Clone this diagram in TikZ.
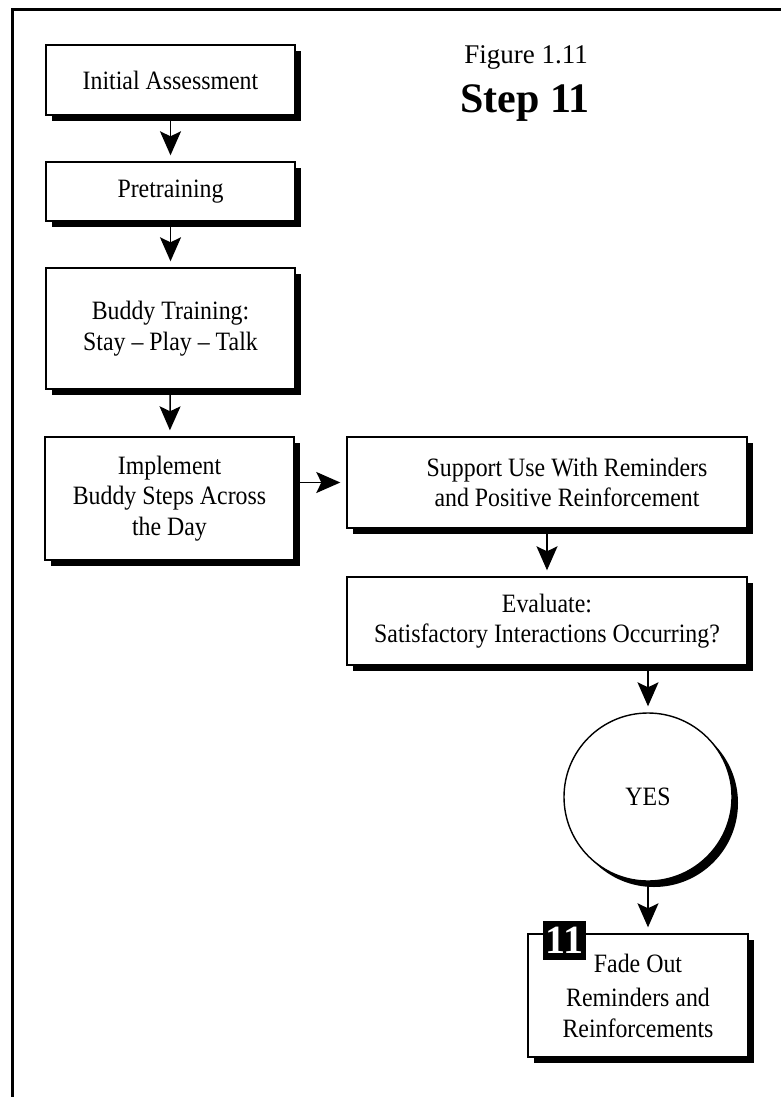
\documentclass[tikz,border=0pt]{standalone}
\usepackage{fontspec}
\setmainfont{Liberation Serif}[FakeStretch=0.9]
\newfontfamily\titlefont{Liberation Serif}
\usepackage{tikz}
\usetikzlibrary{arrows.meta,shadows}

\tikzset{
  stepbox/.style={draw,line width=1.4pt,fill=white,align=center,inner sep=2pt,
    drop shadow={shadow xshift=6pt,shadow yshift=-6pt,fill=black,opacity=1}},
  wide/.style={minimum width=249pt},
  flow/.style={->,line width=1.5pt,shorten >=6pt}
}

\begin{document}
\begin{tikzpicture}[x=1pt,y=-1pt,>={Stealth[length=24pt,width=21pt,inset=5pt]},
  font=\fontsize{26.5}{30.5}\selectfont]
  \useasboundingbox (0,0) rectangle (781,1097);
  \draw[line width=3pt] (12,1097) -- (12,10) -- (781,10);
  % title
  \node[anchor=base,font=\fontsize{27}{30}\titlefont] (fig) at (526,64) {Figure 1.11};
  \node[anchor=base,font=\fontsize{42}{46}\titlefont\bfseries] (title) at (525,113) {Step 11};
  % left column
  \node[stepbox,wide,minimum height=70pt] (I) at (170.5,80) {Initial Assessment};
  \node[stepbox,wide,minimum height=59pt] (P) at (170.5,191.5) {Pretraining};
  \node[stepbox,wide,minimum height=121pt] (B) at (170.5,328.5) {Buddy Training:\\Stay -- Play -- Talk};
  \node[stepbox,wide,minimum height=123pt] (M) at (169.5,498.5) {Implement\\Buddy Steps Across\\the Day};
  % right column
  \node[stepbox,minimum width=400pt,minimum height=91pt] (S) at (547,482.5) {\hspace*{40pt}Support Use With Reminders\\\hspace*{40pt}and Positive Reinforcement};
  \node[stepbox,minimum width=400pt,minimum height=88pt] (E) at (547,621) {Evaluate:\\Satisfactory Interactions Occurring?};
  \node[stepbox,circle,minimum size=168pt,inner sep=0pt] (Y) at (648,797) {YES};
  \node[stepbox,minimum width=220pt,minimum height=123pt] (F) at (638,995.5) {\raisebox{4pt}{Fade Out}\\Reminders and\\Reinforcements};
  \node[fill=black,text=white,minimum width=43pt,minimum height=39pt,inner sep=0pt,
    font=\fontsize{40}{40}\titlefont\bfseries] (n) at (564.5,940.5) {11};
  % arrows
  \draw[flow] (I) -- (P);
  \draw[flow] (P) -- (B);
  \draw[flow] (B) -- (M);
  \draw[flow] (M.east |- S.west) -- (S.west);
  \draw[flow] (S) -- (E);
  \draw[flow] (Y |- E.south) -- (Y.north);
  \draw[flow] (Y.south) -- (Y.south |- F.north);
\end{tikzpicture}
\end{document}
